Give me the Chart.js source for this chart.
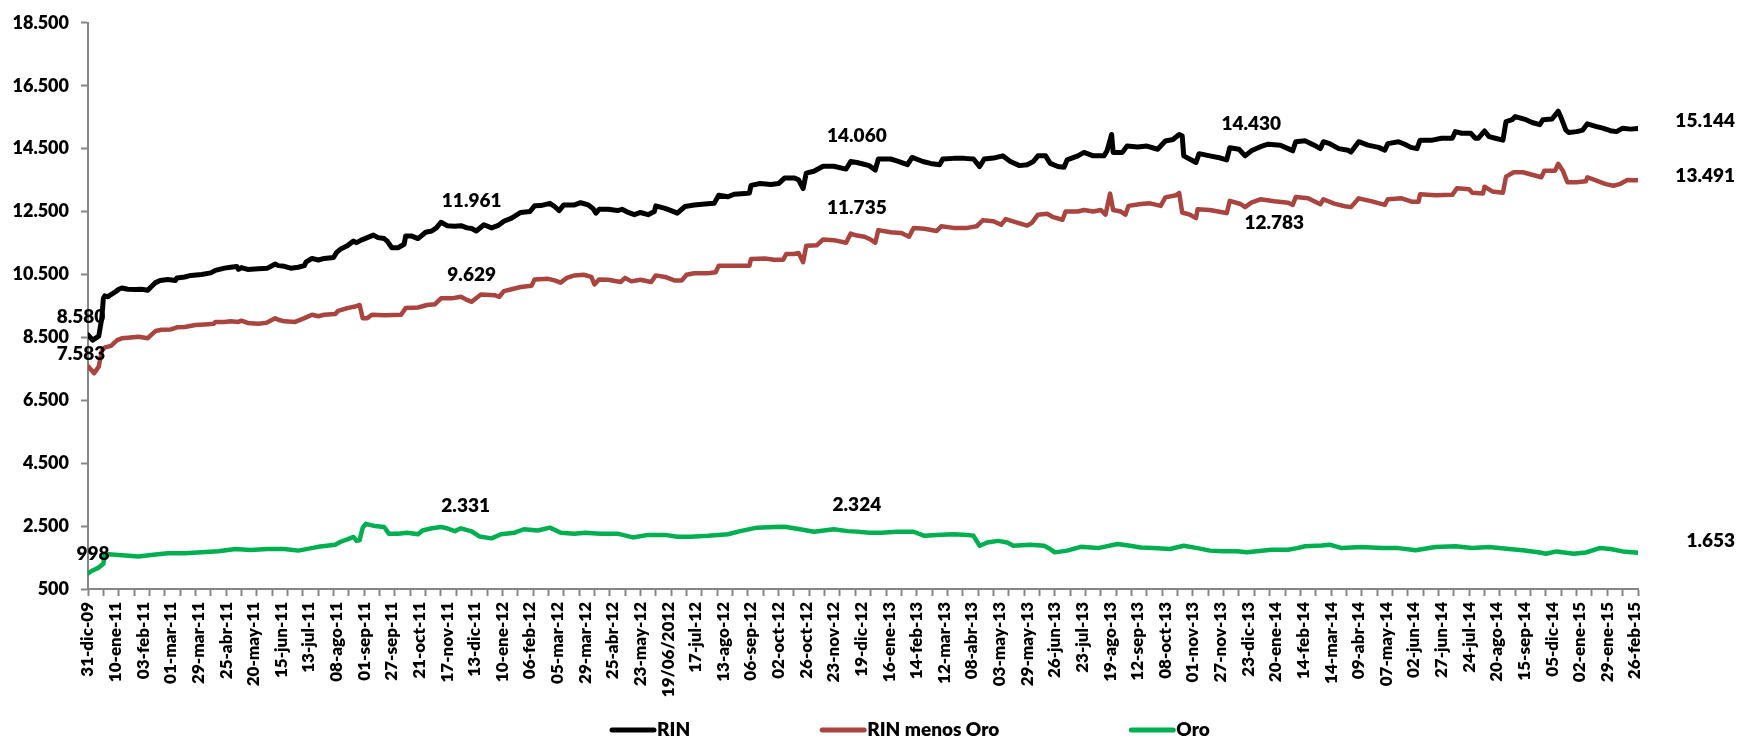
<!DOCTYPE html>
<html lang="es">
<head>
    <meta charset="UTF-8">
    <title>RIN, RIN menos Oro y Oro</title>
    <style>
        html, body { margin: 0; padding: 0; background: #fff; }
        #grafico { display: block; }
    </style>
</head>
<body>
    <canvas id="grafico" width="1744" height="741" style="width:1744px;height:741px"></canvas>

    <script src="https://cdn.jsdelivr.net/npm/chart.js@4.4.0/dist/chart.umd.min.js"></script>
    <script>
// rótulos del eje x, uno cada 18 observaciones
var fechas = ['31-dic-09','10-ene-11','03-feb-11','01-mar-11','29-mar-11','25-abr-11','20-may-11','15-jun-11',
    '13-jul-11','08-ago-11','01-sep-11','27-sep-11','21-oct-11','17-nov-11','13-dic-11','10-ene-12','06-feb-12',
    '05-mar-12','29-mar-12','25-abr-12','23-may-12','19/06/2012','17-jul-12','13-ago-12','06-sep-12','02-oct-12',
    '26-oct-12','23-nov-12','19-dic-12','16-ene-13','14-feb-13','12-mar-13','08-abr-13','03-may-13','29-may-13',
    '26-jun-13','23-jul-13','19-ago-13','12-sep-13','08-oct-13','01-nov-13','27-nov-13','23-dic-13','20-ene-14',
    '14-feb-14','14-mar-14','09-abr-14','07-may-14','02-jun-14','27-jun-14','24-jul-14','20-ago-14','15-sep-14',
    '05-dic-14','02-ene-15','29-ene-15','26-feb-15'];
var ultimoDia = 1010;

// RIN (millones de $us), posición = nº de observación
var rinDia = [0,3,7,9,10,11,13,15,18,20,
    22,26,31,35,39,41,44,47,52,57,
    58,63,67,74,80,83,89,93,97,98,
    100,104,111,117,122,124,128,132,137,141,
    142,146,150,154,160,162,165,169,173,175,
    178,182,186,189,193,195,198,202,206,207,
    211,215,217,220,224,227,230,234,239,243,
    247,250,253,258,263,267,271,276,282,288,
    291,295,301,304,307,310,317,321,326,329,
    331,333,339,345,348,352,356,360,365,369,
    370,376,380,384,389,395,402,408,411,417,
    421,428,431,432,438,445,450,454,460,463,
    466,468,473,479,486,494,497,501,505,509,
    513,515,523,527,534,537,544,549,555,557,
    564,571,577,581,584,590,596,601,607,612,
    616,619,624,627,632,636,638,645,649,655,
    662,664,667,668,674,677,684,690,697,702,
    707,711,713,714,719,722,724,731,738,742,
    744,750,754,758,764,769,777,782,785,787,
    793,799,803,805,809,815,821,823,828,834,
    841,845,847,854,858,862,866,868,876,882,
    889,891,895,901,904,906,910,913,917,922,
    924,928,930,937,941,946,948,954,958,960,
    963,965,970,974,977,983,987,992,996,1000,
    1005,1010];
var rin = [8580,8410,8540,9110,9740,9820,9790,9860,9950,10030,
    10070,10030,10020,10030,10000,10100,10240,10310,10340,10310,
    10390,10420,10470,10500,10550,10630,10700,10730,10750,10660,
    10720,10660,10680,10700,10830,10780,10760,10700,10730,10780,
    10890,11010,10960,11010,11040,11200,11320,11410,11560,11510,
    11590,11670,11750,11670,11640,11560,11350,11350,11460,11720,
    11720,11640,11720,11840,11880,11980,12160,12050,12030,12050,
    11980,11961,11880,12080,11980,12050,12190,12290,12470,12500,
    12680,12690,12760,12660,12530,12710,12710,12780,12710,12600,
    12450,12570,12570,12530,12570,12470,12400,12470,12400,12500,
    12680,12600,12530,12450,12660,12710,12740,12760,13020,12970,
    13050,13070,13090,13330,13390,13360,13390,13570,13570,13510,
    13230,13720,13780,13940,13940,13850,14090,14060,14010,13960,
    13820,14170,14170,14110,13990,14220,14090,14030,13990,14170,
    14190,14190,14170,13930,14170,14200,14270,14090,13960,13990,
    14090,14270,14270,14030,13930,13910,14140,14270,14380,14270,
    14270,14430,14950,14380,14380,14580,14550,14580,14480,14740,
    14790,14950,14900,14270,14140,14060,14340,14270,14200,14140,
    14530,14480,14270,14430,14560,14640,14610,14500,14430,14720,
    14750,14610,14500,14720,14660,14500,14450,14390,14720,14610,
    14540,14450,14660,14720,14640,14540,14500,14770,14770,14830,
    14830,15040,14990,14990,14830,14830,15060,14880,14830,14770,
    15360,15420,15520,15420,15330,15260,15420,15440,15690,15470,
    15090,15010,15040,15090,15290,15200,15150,15070,15040,15150,
    15120,15144];

// RIN menos Oro
var rmoDia = [0,4,7,9,11,15,19,22,26,33,
    39,41,44,48,54,58,63,70,76,82,
    83,89,93,98,100,104,111,116,122,124,
    128,135,141,146,150,154,161,163,169,174,
    177,179,182,185,193,204,207,215,221,226,
    230,237,243,247,250,256,265,268,271,276,
    282,289,291,300,304,308,312,317,323,328,
    330,333,339,347,350,354,360,367,370,376,
    382,387,390,395,404,409,411,419,425,431,
    432,441,447,453,455,460,463,466,468,475,
    479,486,494,497,501,506,510,513,515,523,
    530,535,538,545,553,556,564,573,579,583,
    590,595,598,606,612,615,619,625,629,635,
    637,645,649,655,660,663,666,668,673,676,
    678,686,692,699,702,709,711,713,718,722,
    723,731,740,742,744,751,754,758,764,773,
    782,785,787,795,803,805,812,819,823,828,
    836,845,847,856,863,867,868,878,889,892,
    900,902,909,910,915,922,924,929,935,941,
    947,949,956,958,961,964,970,976,977,983,
    989,994,998,1003,1010];
var rmo = [7583,7360,7570,8070,8180,8230,8410,8470,8490,8520,
    8470,8570,8700,8740,8750,8820,8830,8890,8910,8930,
    8990,8990,9010,8990,9030,8960,8930,8960,9110,9060,
    9010,8990,9110,9220,9170,9220,9240,9340,9430,9480,
    9530,9110,9110,9220,9200,9220,9430,9450,9530,9550,
    9740,9740,9790,9690,9629,9860,9840,9790,9970,10030,
    10100,10140,10340,10360,10310,10240,10390,10470,10490,10420,
    10180,10340,10330,10260,10390,10280,10330,10260,10470,10420,
    10310,10310,10490,10540,10540,10570,10780,10780,10780,10780,
    10990,11010,10970,10970,11150,11150,11180,10890,11410,11430,
    11610,11590,11510,11800,11735,11700,11610,11510,11910,11840,
    11820,11700,11980,11950,11880,12030,11980,11980,12030,12220,
    12190,12080,12260,12140,12050,12140,12400,12430,12320,12240,
    12500,12500,12550,12500,12550,12400,13070,12550,12500,12400,
    12680,12740,12760,12680,12950,13020,13090,12470,12400,12290,
    12570,12550,12470,12450,12840,12740,12640,12783,12890,12830,
    12780,12710,12960,12920,12730,12890,12750,12670,12640,12920,
    12830,12710,12890,12920,12810,12810,13050,13020,13030,13240,
    13210,13100,13070,13290,13140,13100,13610,13750,13750,13670,
    13590,13800,13800,14020,13800,13430,13430,13460,13590,13480,
    13370,13320,13370,13500,13491];

// Oro
var oroDia = [0,3,7,10,11,20,33,41,52,63,
    74,85,96,106,117,128,137,150,161,165,
    169,173,175,177,179,181,187,193,196,202,
    208,215,218,224,230,234,239,243,250,255,
    263,269,278,284,293,301,308,317,324,334,
    345,355,365,376,384,393,404,417,425,436,
    447,454,464,473,486,495,501,509,517,527,
    538,545,553,564,573,577,581,586,593,599,
    603,614,623,627,630,638,647,658,671,679,
    686,694,705,714,723,731,740,749,755,760,
    771,782,788,793,804,809,817,830,843,854,
    865,878,891,902,913,926,935,946,950,957,
    968,976,985,992,1000,1010];
var oro = [998,1090,1180,1300,1610,1580,1530,1580,1635,1635,
    1665,1700,1770,1740,1770,1770,1720,1840,1905,2010,
    2080,2155,2030,2050,2450,2570,2500,2470,2260,2260,
    2290,2240,2360,2430,2470,2430,2340,2430,2331,2170,
    2110,2240,2290,2400,2360,2450,2290,2260,2290,2260,
    2260,2140,2220,2220,2160,2160,2190,2240,2340,2450,
    2470,2480,2400,2320,2400,2340,2324,2290,2290,2320,
    2320,2190,2220,2240,2220,2190,1875,1980,2030,1980,
    1875,1905,1875,1770,1665,1720,1840,1800,1930,1875,
    1820,1800,1770,1875,1800,1720,1700,1700,1665,1695,
    1750,1750,1800,1860,1880,1910,1800,1835,1800,1800,
    1730,1835,1860,1800,1835,1770,1730,1660,1620,1695,
    1620,1660,1800,1770,1695,1653];

// etiquetas de datos: serie, observación y desplazamiento en px
var etiquetas = [
    { serie: 0, dia: 0,    dx: -7, dy: -18 },
    { serie: 1, dia: 0,    dx: -7, dy: -12 },
    { serie: 2, dia: 0,    dx: 5,  dy: -19 },
    { serie: 0, dia: 250,  dx: 0,  dy: -28 },
    { serie: 1, dia: 250,  dx: 0,  dy: -27 },
    { serie: 2, dia: 250,  dx: -6, dy: -26 },
    { serie: 0, dia: 501,  dx: 0,  dy: -27 },
    { serie: 1, dia: 501,  dx: 0,  dy: -28 },
    { serie: 2, dia: 501,  dx: 0,  dy: -27 },
    { serie: 0, dia: 758,  dx: 0,  dy: -27 },
    { serie: 1, dia: 758,  dx: 23, dy: 20 },
    { serie: 0, dia: 1010, dx: 97, dy: -7,  align: 'right' },
    { serie: 1, dia: 1010, dx: 97, dy: -4,  align: 'right' },
    { serie: 2, dia: 1010, dx: 97, dy: -12, align: 'right' }
];

var gris = '#868686';
var peso = 800;

function fmt(v) {
    return String(Math.round(v)).replace(/\B(?=(\d{3})+(?!\d))/g, '.');
}

function puntos(xs, ys) {
    return xs.map(function (d, i) { return { x: d, y: ys[i] }; });
}

// marcas del eje x: cada 10 observaciones, rótulos cada 18
var marcas = [];
for (var m = 0; m <= ultimoDia; m++) {
    if (m % 10 === 0 || (m % 18 === 0 && m / 18 < fechas.length)) marcas.push(m);
}

var rotulos = {
    id: 'rotulos',
    afterDatasetsDraw: function (chart) {
        var ctx = chart.ctx, sx = chart.scales.x, sy = chart.scales.y;
        ctx.save();
        ctx.font = peso + ' 19px Lato';
        ctx.fillStyle = '#000';
        ctx.textBaseline = 'middle';
        etiquetas.forEach(function (e) {
            var p = chart.data.datasets[e.serie].data.find(function (d) { return d.x === e.dia; });
            if (!p) return;
            ctx.textAlign = e.align || 'center';
            ctx.fillText(fmt(p.y), sx.getPixelForValue(p.x) + e.dx, sy.getPixelForValue(p.y) + e.dy);
        });
        ctx.restore();
    }
};

var leyenda = {
    id: 'leyenda',
    afterDraw: function (chart) {
        var ctx = chart.ctx, x = 610, y = 730;
        ctx.save();
        ctx.font = peso + ' 19px Lato';
        ctx.textAlign = 'left';
        ctx.textBaseline = 'middle';
        chart.data.datasets.forEach(function (ds) {
            ctx.strokeStyle = ds.borderColor;
            ctx.lineWidth = 5;
            ctx.lineCap = 'round';
            ctx.beginPath();
            ctx.moveTo(x + 2, y);
            ctx.lineTo(x + 44, y);
            ctx.stroke();
            ctx.fillStyle = '#000';
            ctx.fillText(ds.label, x + 47, y);
            x += 47 + ctx.measureText(ds.label).width + 130;
        });
        ctx.restore();
    }
};

Chart.defaults.font.family = 'Lato';
Chart.defaults.font.weight = peso;
Chart.defaults.font.size = 18;
Chart.defaults.color = '#000';

new Chart(document.getElementById('grafico'), {
    type: 'line',
    data: {
        datasets: [
            { label: 'RIN', data: puntos(rinDia, rin), borderColor: '#000000', backgroundColor: '#000000', borderWidth: 5 },
            { label: 'RIN menos Oro', data: puntos(rmoDia, rmo), borderColor: '#A9443F', backgroundColor: '#A9443F', borderWidth: 4.5 },
            { label: 'Oro', data: puntos(oroDia, oro), borderColor: '#00B050', backgroundColor: '#00B050', borderWidth: 4.5 }
        ]
    },
    options: {
        responsive: false,
        animation: false,
        devicePixelRatio: 1,
        layout: { padding: { left: 0, right: 106, top: 14, bottom: 0 } },
        elements: {
            point: { radius: 0 },
            line: { tension: 0, borderJoinStyle: 'round', borderCapStyle: 'round' }
        },
        plugins: {
            legend: { display: false },
            tooltip: { enabled: false }
        },
        scales: {
            x: {
                type: 'linear',
                min: 0,
                max: ultimoDia,
                afterBuildTicks: function (s) {
                    s.ticks = marcas.map(function (v) { return { value: v }; });
                },
                afterFit: function (s) { s.height = 152; },
                grid: {
                    drawOnChartArea: false,
                    drawTicks: true,
                    tickLength: 7,
                    tickWidth: 2,
                    tickColor: function (c) {
                        return (c.tick && c.tick.value % 10 === 0) ? gris : 'rgba(0,0,0,0)';
                    }
                },
                border: { display: true, color: gris, width: 2 },
                ticks: {
                    autoSkip: false,
                    maxRotation: 90,
                    minRotation: 90,
                    padding: 6,
                    font: { size: 17, weight: peso },
                    callback: function (v) {
                        return v % 18 === 0 ? (fechas[v / 18] || '') : '';
                    }
                }
            },
            y: {
                min: 500,
                max: 18500,
                afterFit: function (s) { s.width = 88; },
                grid: {
                    drawOnChartArea: false,
                    drawTicks: true,
                    tickLength: 7,
                    tickWidth: 2,
                    tickColor: gris
                },
                border: { display: true, color: gris, width: 2 },
                ticks: {
                    stepSize: 2000,
                    padding: 12,
                    font: { size: 18, weight: peso },
                    callback: function (v) { return fmt(v); }
                }
            }
        }
    },
    plugins: [rotulos, leyenda]
});
    </script>
</body>
</html>
